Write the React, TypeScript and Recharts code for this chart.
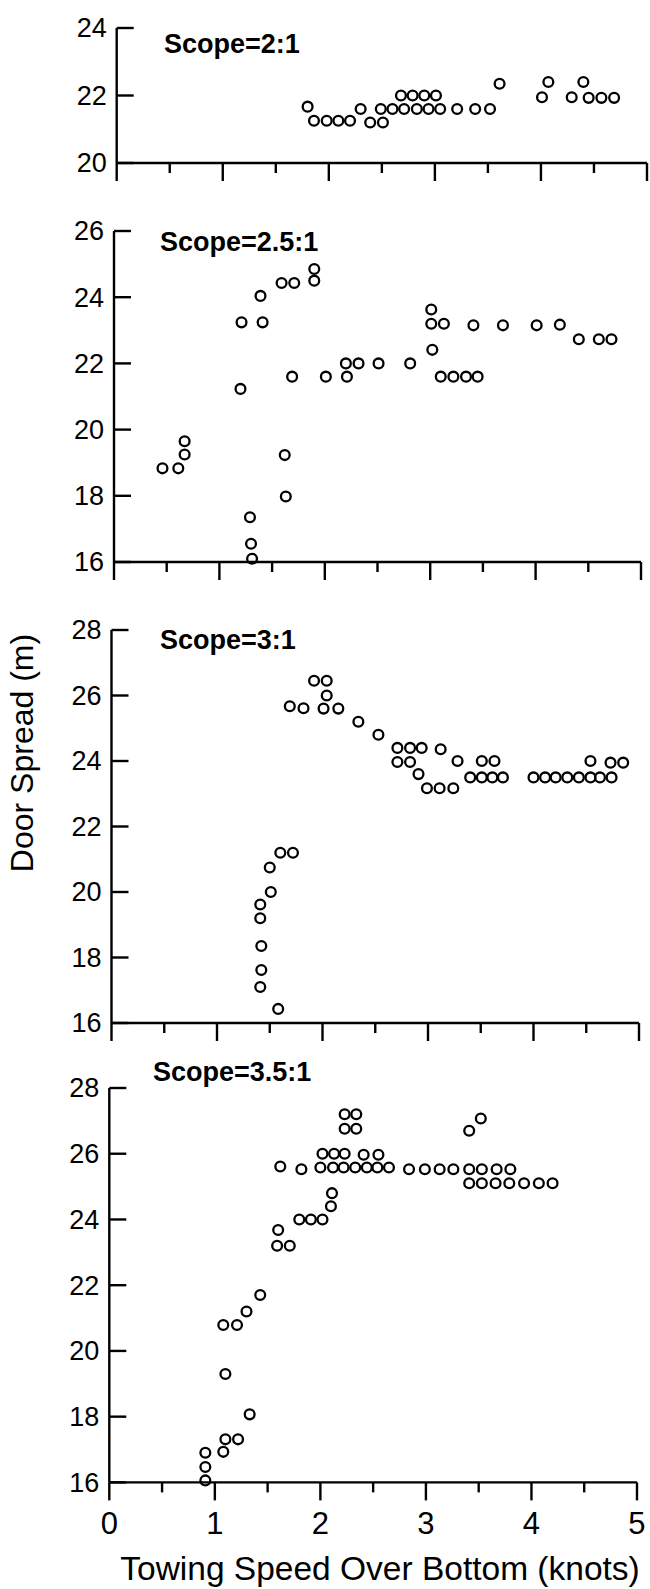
import React from 'react';
import { ScatterChart, Scatter, XAxis, YAxis } from 'recharts';

const FONT = '"Liberation Sans", Arial, Helvetica, sans-serif';

// towing speed ticks (knots), shared by every panel
const speedTicks = [0, 0.5, 1, 1.5, 2, 2.5, 3, 3.5, 4, 4.5, 5];

// Scope = 2:1
const scope2Speed = [1.8, 1.86, 1.98, 2.09, 2.2, 2.3, 2.39, 2.51, 2.49, 2.6, 2.71, 2.83, 2.94, 3.05, 2.68, 2.79, 2.9, 3.01, 3.21, 3.38, 3.52, 3.61, 4.01, 4.07, 4.29, 4.4, 4.45, 4.57, 4.69];
const scope2Spread = [21.67, 21.25, 21.25, 21.25, 21.25, 21.6, 21.2, 21.2, 21.6, 21.6, 21.6, 21.6, 21.6, 21.6, 22.0, 22.0, 22.0, 22.0, 21.6, 21.6, 21.6, 22.35, 21.95, 22.4, 21.95, 22.4, 21.93, 21.93, 21.93];
const scope2Ticks = [20, 22, 24];

// Scope = 2.5:1
const scope25Speed = [0.46, 0.61, 0.67, 0.67, 1.2, 1.21, 1.29, 1.3, 1.31, 1.39, 1.41, 1.59, 1.71, 1.9, 1.9, 1.62, 1.63, 1.69, 2.01, 2.21, 2.2, 2.32, 2.51, 2.81, 3.01, 3.01, 3.13, 3.02, 3.1, 3.22, 3.34, 3.45, 3.41, 3.69, 4.01, 4.23, 4.41, 4.6, 4.72];
const scope25Spread = [18.83, 18.83, 19.25, 19.65, 21.23, 23.24, 17.35, 16.55, 16.1, 24.04, 23.24, 24.43, 24.43, 24.85, 24.5, 19.23, 17.98, 21.6, 21.6, 21.6, 22.0, 22.0, 22.0, 22.0, 23.63, 23.2, 23.2, 22.41, 21.6, 21.6, 21.6, 21.6, 23.15, 23.15, 23.15, 23.17, 22.73, 22.73, 22.73];
const scope25Ticks = [16, 18, 20, 22, 24, 26];

// Scope = 3:1
const scope3Speed = [1.41, 1.41, 1.42, 1.42, 1.41, 1.58, 1.51, 1.5, 1.6, 1.72, 1.69, 1.82, 1.92, 2.04, 2.04, 2.01, 2.15, 2.34, 2.53, 2.71, 2.83, 2.94, 2.71, 2.83, 2.91, 2.99, 3.11, 3.24, 3.12, 3.28, 3.4, 3.51, 3.61, 3.71, 3.51, 3.63, 4.0, 4.11, 4.21, 4.32, 4.43, 4.54, 4.63, 4.74, 4.54, 4.73, 4.85];
const scope3Spread = [19.62, 19.2, 18.35, 17.62, 17.1, 16.43, 20.0, 20.75, 21.2, 21.2, 25.67, 25.61, 26.45, 26.45, 26.0, 25.6, 25.6, 25.2, 24.8, 24.4, 24.4, 24.4, 23.97, 23.97, 23.6, 23.17, 23.17, 23.17, 24.36, 24.0, 23.5, 23.5, 23.5, 23.5, 24.0, 24.0, 23.5, 23.5, 23.5, 23.5, 23.5, 23.5, 23.5, 23.5, 24.0, 23.95, 23.95];
const scope3Ticks = [16, 18, 20, 22, 24, 26, 28];

// Scope = 3.5:1
const scope35Speed = [0.91, 0.91, 0.91, 1.08, 1.1, 1.22, 1.33, 1.1, 1.08, 1.21, 1.3, 1.43, 1.59, 1.71, 1.6, 1.8, 1.91, 2.02, 2.1, 2.11, 1.62, 1.82, 2.0, 2.12, 2.22, 2.33, 2.44, 2.54, 2.65, 2.02, 2.13, 2.23, 2.41, 2.55, 2.23, 2.34, 2.23, 2.34, 2.84, 2.99, 3.13, 3.26, 3.41, 3.53, 3.67, 3.8, 3.41, 3.53, 3.66, 3.79, 3.93, 4.07, 4.2, 3.41, 3.52];
const scope35Spread = [16.9, 16.47, 16.06, 16.93, 17.31, 17.31, 18.07, 19.3, 20.79, 20.79, 21.2, 21.7, 23.2, 23.2, 23.68, 24.0, 24.0, 24.0, 24.4, 24.8, 25.61, 25.53, 25.58, 25.58, 25.58, 25.58, 25.58, 25.58, 25.58, 26.0, 26.0, 26.0, 25.97, 25.97, 27.2, 27.2, 26.76, 26.76, 25.53, 25.53, 25.53, 25.53, 25.53, 25.53, 25.53, 25.53, 25.1, 25.1, 25.1, 25.1, 25.1, 25.1, 25.1, 26.7, 27.07];
const scope35Ticks = [16, 18, 20, 22, 24, 26, 28];

const toPoints = (xs: number[], ys: number[]) => xs.map((x, i) => ({ speed: x, spread: ys[i] }));

const Ring = (props: any) => (
  <circle cx={props.cx} cy={props.cy} r={4.9} fill="none" stroke="#000" strokeWidth={2.3} />
);

const SpeedTick = (props: any) => {
  const { x, y, payload, showLabel } = props;
  const v = payload.value;
  const major = Number.isInteger(v);
  return (
    <g>
      <line x1={x} x2={x} y1={y} y2={y + (major ? 18 : 10)} stroke="#000" strokeWidth={2.4} />
      {showLabel && major && (
        <text x={x} y={y + 52} textAnchor="middle" fontSize={31} fontFamily={FONT} fill="#000">
          {v}
        </text>
      )}
    </g>
  );
};

const SpreadTick = (props: any) => {
  const { x, y, payload } = props;
  return (
    <g>
      <line x1={x} x2={x + 17} y1={y} y2={y} stroke="#000" strokeWidth={2.4} />
      <text x={x - 10} y={y} dy="0.35em" textAnchor="end" fontSize={27} fontFamily={FONT} fill="#000">
        {payload.value}
      </text>
    </g>
  );
};

type PanelProps = {
  top: number;
  bottom: number;
  left: number;
  right: number;
  domain: [number, number];
  ticks: number[];
  data: { speed: number; spread: number }[];
  bottomPad: number;
  showLabels?: boolean;
};

const Panel = ({ top, bottom, left, right, domain, ticks, data, bottomPad, showLabels }: PanelProps) => {
  const padTop = 24;
  const height = bottom - top + padTop + bottomPad;
  return (
    <div style={{ position: 'absolute', left: 0, top: top - padTop }}>
      <ScatterChart width={650} height={height} margin={{ top: padTop, right: 650 - right, bottom: 0, left: 0 }}>
        <XAxis
          type="number"
          dataKey="speed"
          domain={[0, 5]}
          ticks={speedTicks}
          interval={0}
          height={bottomPad}
          tickSize={0}
          tickMargin={0}
          tickLine={false}
          axisLine={{ stroke: '#000', strokeWidth: 2.4 }}
          tick={(p: any) => <SpeedTick {...p} showLabel={showLabels} />}
        />
        <YAxis
          type="number"
          dataKey="spread"
          domain={domain}
          ticks={ticks}
          interval={0}
          width={left}
          tickSize={0}
          tickMargin={0}
          tickLine={false}
          axisLine={{ stroke: '#000', strokeWidth: 2.4 }}
          tick={(p: any) => <SpreadTick {...p} />}
        />
        <Scatter data={data} shape={Ring} isAnimationActive={false} />
      </ScatterChart>
    </div>
  );
};

export default function App() {
  return (
    <div style={{ position: 'absolute', left: 0, top: 0, width: 650, height: 1589, background: '#fff', fontFamily: FONT }}>
      <Panel top={28.3} bottom={163.3} left={116.7} right={647} domain={[20, 24]} ticks={scope2Ticks} data={toPoints(scope2Speed, scope2Spread)} bottomPad={30} />
      <Panel top={230.7} bottom={561.7} left={114} right={641} domain={[16, 26]} ticks={scope25Ticks} data={toPoints(scope25Speed, scope25Spread)} bottomPad={30} />
      <Panel top={630} bottom={1023} left={111.5} right={639} domain={[16, 28]} ticks={scope3Ticks} data={toPoints(scope3Speed, scope3Spread)} bottomPad={30} />
      <Panel top={1088.3} bottom={1482.7} left={109.3} right={637} domain={[16, 28]} ticks={scope35Ticks} data={toPoints(scope35Speed, scope35Spread)} bottomPad={100} showLabels />
      <svg width={650} height={1589} style={{ position: 'absolute', left: 0, top: 0, pointerEvents: 'none' }}>
        <g fontFamily={FONT} fontWeight="bold" fontSize={27} fill="#000">
          <text x={164} y={44} dy="0.35em">Scope=2:1</text>
          <text x={160} y={242} dy="0.35em">Scope=2.5:1</text>
          <text x={160} y={640} dy="0.35em">Scope=3:1</text>
          <text x={153} y={1072} dy="0.35em">Scope=3.5:1</text>
        </g>
        <text x={380} y={1580} textAnchor="middle" fontFamily={FONT} fontSize={33.5} fill="#000">
          Towing Speed Over Bottom (knots)
        </text>
        <text x={33} y={753} textAnchor="middle" fontFamily={FONT} fontSize={32} fill="#000" transform="rotate(-90, 33, 753)">
          Door Spread (m)
        </text>
      </svg>
    </div>
  );
}
